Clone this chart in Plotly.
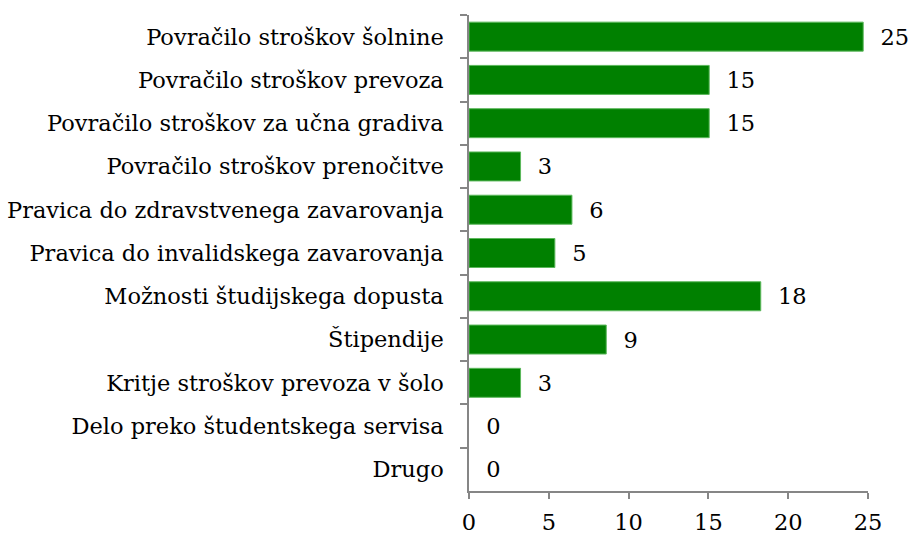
import plotly.graph_objects as go

categories = [
    "Povračilo stroškov šolnine",
    "Povračilo stroškov prevoza",
    "Povračilo stroškov za učna gradiva",
    "Povračilo stroškov prenočitve",
    "Pravica do zdravstvenega zavarovanja",
    "Pravica do invalidskega zavarovanja",
    "Možnosti študijskega dopusta",
    "Štipendije",
    "Kritje stroškov prevoza v šolo",
    "Delo preko študentskega servisa",
    "Drugo",
]
values = [24.7, 15.05, 15.05, 3.23, 6.45, 5.38, 18.28, 8.6, 3.23, 0, 0]
x_ticks = [0, 5, 10, 15, 20, 25]

FONT = "DejaVu Serif"
FS = 22.5
GRAY = "#868686"

fig = go.Figure(
    go.Bar(
        y=categories,
        x=values,
        orientation="h",
        marker=dict(
            color="#008000",
            line=dict(color="#5cb85c", width=[1 if v > 0 else 0 for v in values]),
        ),
        texttemplate="\u00a0\u00a0%{x:.0f}",
        textposition="outside",
        textfont=dict(family=FONT, size=FS, color="#000000"),
        cliponaxis=False,
        width=0.67,
    )
)

fig.update_layout(
    width=909,
    height=536,
    margin=dict(l=469, r=41, t=15, b=45, autoexpand=False),
    plot_bgcolor="white",
    paper_bgcolor="white",
    font=dict(family=FONT, size=FS, color="#000000"),
    showlegend=False,
)
fig.update_xaxes(
    range=[0, 25],
    tickvals=x_ticks,
    showgrid=False,
    zeroline=False,
    showline=True,
    linecolor=GRAY,
    linewidth=1.5,
    ticks="outside",
    ticklen=6,
    tickcolor=GRAY,
    tickwidth=1.5,
    ticklabelstandoff=4,
    automargin=False,
)
fig.update_yaxes(
    autorange="reversed",
    showgrid=False,
    showline=True,
    linecolor=GRAY,
    linewidth=1.5,
    ticks="outside",
    tickson="boundaries",
    ticklen=7,
    tickcolor=GRAY,
    tickwidth=1.5,
    ticklabelstandoff=19,
    automargin=False,
)

fig.write_html(
    "out.html",
    config={"displayModeBar": False},
    post_script="document.body.style.margin='0';document.body.style.overflow='hidden';",
)
